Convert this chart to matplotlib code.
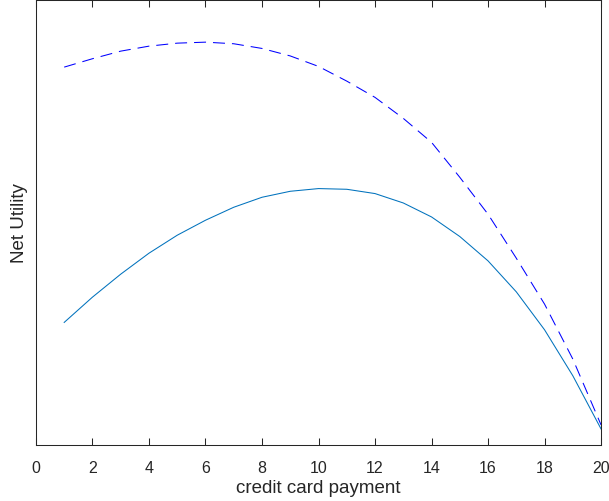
import matplotlib
matplotlib.use('Agg')
import matplotlib.pyplot as plt

# credit card payment levels
payment = [1, 2, 3, 4, 5, 6, 7, 8, 9, 10, 11, 12, 13, 14, 15, 16, 17, 18, 19, 20]

# net utility (arbitrary units, no y ticks in the original)
utility_solid = [122.7, 148, 171, 192, 210, 225, 238, 248, 254, 256.7,
                 256, 251.7, 242.3, 228.3, 208.7, 184.3, 153.3, 115.3, 69.3, 16]
utility_dashed = [378.3, 386.7, 394.3, 399.3, 402.3, 403.3, 401.7, 397, 389.5, 379,
                  364.3, 348, 327, 303, 268, 231, 187, 141, 86, 20]

plt.rcParams['font.family'] = ['Liberation Sans', 'DejaVu Sans']

fig = plt.figure(figsize=(6.09, 5.02), dpi=100)
ax = fig.add_axes([0.059, 0.1116, 0.928, 0.8874])

ax.plot(payment, utility_dashed, color=(0, 0, 1), lw=0.75,
        linestyle=(0, (11.5, 6.7)))
ax.plot(payment, utility_solid, color=(0, 0.447, 0.741), lw=0.75)

ax.set_xlim(0, 20)
ax.set_ylim(0, 446)
ax.set_xticks(range(0, 21, 2))
ax.set_yticks([])

edge = '#262626'
for s in ax.spines.values():
    s.set_color(edge)
    s.set_linewidth(0.75)
ax.tick_params(axis='x', direction='in', length=5, width=0.75, color=edge,
               top=True, labelsize=11.5, labelcolor=edge, pad=10.5)

ax.set_xlabel('credit card payment', fontsize=13.5, color=edge, labelpad=3.5)
ax.set_ylabel('Net Utility', fontsize=13.5, color=edge, labelpad=5.5)

fig.savefig('out.png', dpi=100)
plt.close(fig)
